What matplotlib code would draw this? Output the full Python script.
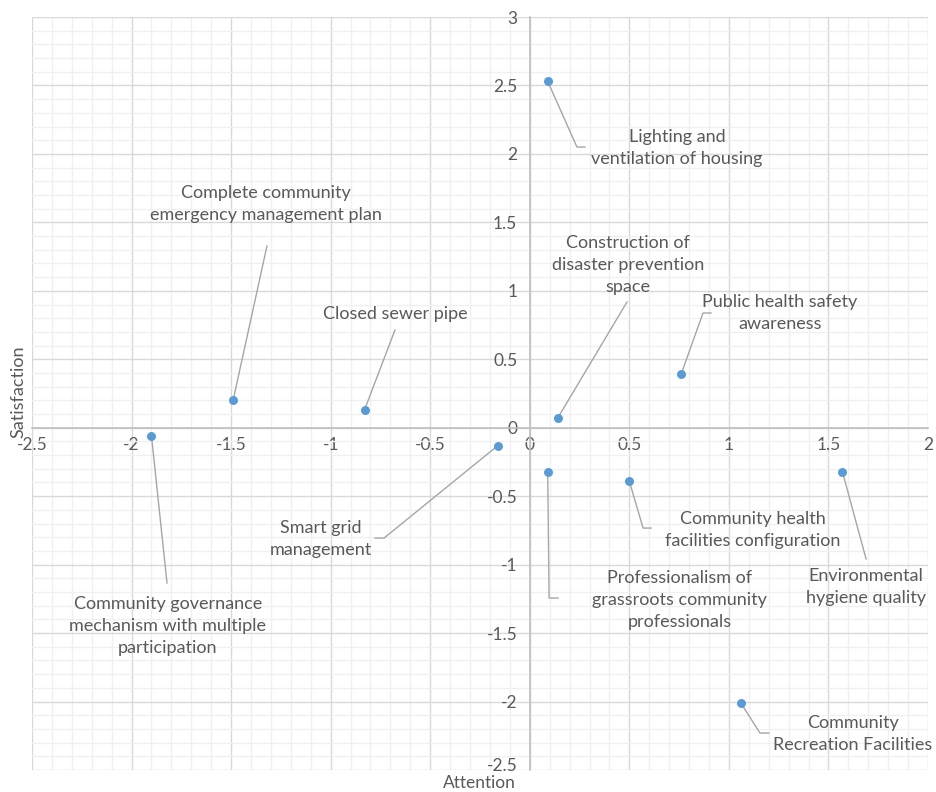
import matplotlib
matplotlib.use("Agg")
import matplotlib.pyplot as plt
from matplotlib.ticker import MultipleLocator, FuncFormatter

# survey items: attention (x) vs satisfaction (y)
items = [
    "Lighting and\nventilation of housing",
    "Public health safety\nawareness",
    "Construction of\ndisaster prevention\nspace",
    "Complete community\nemergency management plan",
    "Closed sewer pipe",
    "Community governance\nmechanism with multiple\nparticipation",
    "Smart grid\nmanagement",
    "Professionalism of\ngrassroots community\nprofessionals",
    "Community health\nfacilities configuration",
    "Environmental\nhygiene quality",
    "Community\nRecreation Facilities",
]
attention = [0.09, 0.76, 0.14, -1.49, -0.83, -1.90, -0.16, 0.09, 0.50, 1.57, 1.06]
satisfaction = [2.53, 0.39, 0.07, 0.20, 0.13, -0.06, -0.13, -0.32, -0.39, -0.32, -2.01]

# label placement: text centre, then the leader path after the point
label_pos = [
    (0.739, 2.043), (1.257, 0.838), (0.493, 1.188), (-1.325, 1.634),
    (-0.677, 0.831), (-1.817, -1.449), (-1.049, -0.813), (0.754, -1.259),
    (1.121, -0.747), (1.689, -1.164), (1.623, -2.237),
]
leader_path = [
    [(0.237, 2.050), (0.277, 2.050)],
    [(0.870, 0.838), (0.910, 0.838)],
    [(0.488, 0.918)],
    [(-1.320, 1.327)],
    [(-0.677, 0.714)],
    [(-1.822, -1.134)],
    [(-0.732, -0.806), (-0.777, -0.806)],
    [(0.097, -1.244), (0.142, -1.244)],
    [(0.569, -0.733), (0.609, -0.733)],
    [(1.689, -0.959)],
    [(1.156, -2.230), (1.201, -2.230)],
]

txt = "#595959"
plt.rcParams["font.family"] = ["Lato", "DejaVu Sans"]

fig = plt.figure(figsize=(9.37, 7.92), dpi=100)
ax = fig.add_axes([32 / 937, 1 - 770 / 792, 896 / 937, 753 / 792])
ymin, ymax = -2.5, 3
ax.set_xlim(-2.5, 2)
ax.set_ylim(ymin, ymax)

ax.xaxis.set_major_locator(MultipleLocator(0.5))
ax.yaxis.set_major_locator(MultipleLocator(0.5))
ax.xaxis.set_minor_locator(MultipleLocator(0.1))
ax.yaxis.set_minor_locator(MultipleLocator(0.1))
ax.grid(which="major", color="#D9D9D9", linewidth=1.0, zorder=0)
ax.grid(which="minor", color="#F0F0F0", linewidth=1.0, zorder=0)
ax.set_axisbelow(True)


def num(v):
    return f"{v:g}".replace("\u2212", "-")


ax.xaxis.set_major_formatter(FuncFormatter(lambda v, _: num(v)))
# the bottom y label is drawn separately, nudged up to clear the x title
ax.yaxis.set_major_formatter(FuncFormatter(lambda v, _: "" if abs(v - ymin) < 1e-9 else num(v)))

for side in ["top", "right"]:
    ax.spines[side].set_visible(False)
for side in ["left", "bottom"]:
    ax.spines[side].set_position("zero")
    ax.spines[side].set_color("#BFBFBF")
    ax.spines[side].set_linewidth(1.2)
ax.tick_params(which="both", length=0, pad=7, labelsize=12.5, labelcolor=txt)
ax.tick_params(axis="y", pad=9)
ax.annotate(num(ymin), xy=(0, ymin), xytext=(-9, 3), textcoords="offset points",
            ha="right", va="center", fontsize=12.5, color=txt)

for name, x, y, pos, path in zip(items, attention, satisfaction, label_pos, leader_path):
    xs = [x] + [p[0] for p in path]
    ys = [y] + [p[1] for p in path]
    ax.plot(xs, ys, color="#A6A6A6", linewidth=1.0, zorder=2)
    ax.text(pos[0], pos[1], name, ha="center", va="center", fontsize=13,
            color=txt, linespacing=1.45, zorder=4)

ax.scatter(attention, satisfaction, s=42, color="#5B9BD5", zorder=3,
           linewidths=0)

fig.text(18 / 937, 1 - 392 / 792, "Satisfaction", rotation=90, ha="center",
         va="center", fontsize=13, color=txt)
fig.text(479 / 937, 0.5 / 792, "Attention", ha="center", va="bottom",
         fontsize=12.5, color=txt)

fig.savefig("out.png", dpi=100, facecolor="white")
